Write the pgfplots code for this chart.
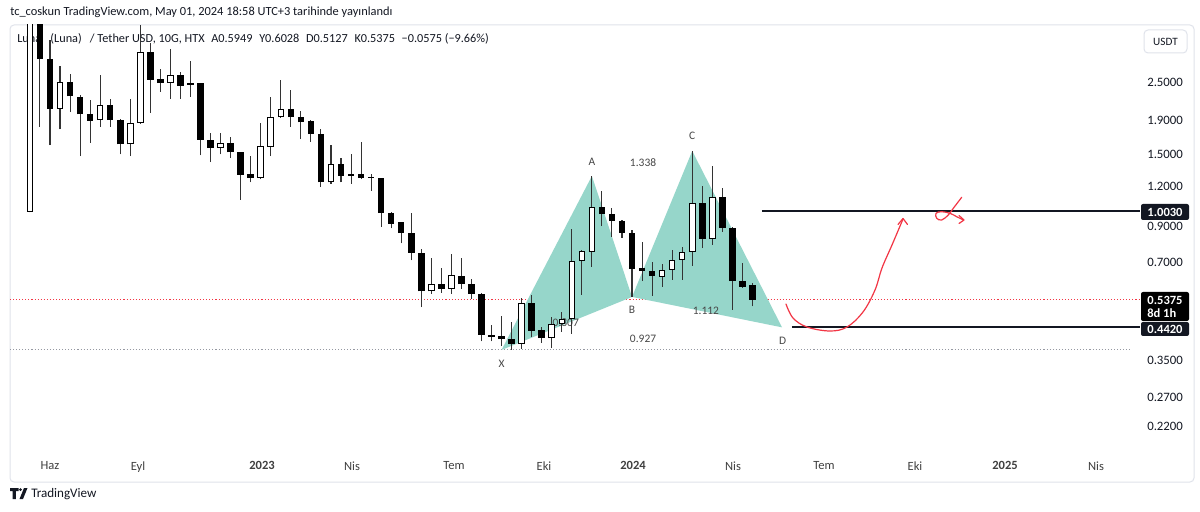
\documentclass[border=0pt]{standalone}
\usepackage{fontspec}
\setmainfont{Carlito}
\usepackage{pgfplots}
\usepackage{pgfplotstable}
\pgfplotsset{compat=1.18}

\definecolor{tvtext}{HTML}{131722}
\definecolor{tvteal}{RGB}{150,214,202}
\definecolor{tvred}{HTML}{F23645}
\definecolor{tvframe}{HTML}{E0E3EB}
\definecolor{tvgray}{HTML}{9598A1}

% 10-day candles, x = days since 1 June 2022
\pgfplotstableread{
d O H L C
-22 1.00 6.00 0.995 4.60
8 2.07 2.80 1.79 2.50
48 1.91 2.63 1.82 2.13
78 1.61 2.22 1.48 1.87
88 1.87 3.74 1.86 3.09
118 2.48 3.16 2.22 2.63
138 2.45 2.90 2.25 2.48
168 1.57 1.74 1.50 1.62
208 1.27 1.87 1.26 1.59
218 1.58 2.25 1.48 1.95
228 1.95 2.54 1.94 2.07
278 1.23 1.60 1.22 1.40
378 0.57 0.72 0.56 0.60
398 0.58 0.74 0.56 0.64
468 0.393 0.544 0.379 0.525
498 0.41 0.476 0.382 0.453
508 0.453 0.493 0.428 0.469
518 0.469 0.885 0.422 0.706
528 0.706 0.763 0.556 0.758
538 0.753 1.287 0.677 1.034
608 0.631 0.692 0.588 0.663
618 0.663 0.763 0.618 0.711
628 0.711 0.780 0.618 0.753
638 0.753 1.536 0.682 1.064
658 0.825 1.382 0.791 1.110
}\upc

\pgfplotstableread{
d O H L C
-12 4.60 5.20 1.82 2.94
-2 2.94 3.36 1.60 2.07
18 2.50 2.65 2.02 2.26
28 2.25 2.28 1.48 1.99
38 1.99 2.20 1.63 1.90
58 2.13 2.22 1.82 1.91
68 1.91 1.92 1.50 1.61
98 3.09 3.29 2.01 2.54
108 2.55 2.74 2.33 2.48
128 2.63 2.68 2.22 2.43
148 2.48 2.49 1.49 1.66
158 1.66 1.74 1.42 1.57
178 1.62 1.70 1.46 1.52
188 1.52 1.53 1.09 1.30
198 1.31 1.48 1.23 1.27
238 2.07 2.36 1.82 1.95
248 1.95 2.04 1.67 1.88
258 1.90 1.91 1.64 1.73
268 1.73 1.79 1.19 1.23
288 1.40 1.46 1.23 1.29
298 1.31 1.50 1.22 1.29
308 1.31 1.64 1.26 1.27
318 1.28 1.31 1.16 1.27
328 1.27 1.27 0.90 0.99
338 0.99 1.00 0.89 0.92
348 0.93 0.93 0.80 0.86
358 0.86 0.99 0.71 0.75
368 0.75 0.77 0.51 0.57
388 0.60 0.67 0.565 0.58
408 0.635 0.72 0.58 0.60
418 0.60 0.62 0.54 0.56
428 0.56 0.565 0.40 0.42
438 0.42 0.45 0.40 0.413
448 0.416 0.48 0.387 0.407
458 0.407 0.46 0.377 0.393
478 0.525 0.556 0.413 0.431
488 0.434 0.443 0.396 0.41
548 1.034 1.158 0.904 0.984
558 0.984 1.027 0.837 0.937
568 0.937 0.944 0.831 0.861
578 0.861 0.879 0.548 0.668
588 0.672 0.808 0.613 0.658
598 0.658 0.701 0.552 0.635
648 1.064 1.200 0.774 0.825
668 1.110 1.183 0.867 0.892
678 0.892 0.895 0.500 0.613
688 0.613 0.696 0.584 0.588
698 0.5949 0.6028 0.5127 0.5375
}\downc

\pgfplotsset{
  candle/.style n args={2}{forget plot,draw=none,mark=none,
    error bars/.cd,y dir=plus,y explicit,error mark=none,
    error bar style={line width=#1,draw=#2,solid}},
}

\begin{document}
\begin{tikzpicture}
\path[use as bounding box] (0,0) rectangle (900pt,383.25pt);
% pixel-space scope (1200x511, y down)
\begin{scope}[x=0.75pt,y=-0.75pt,shift={(0,383.25pt)}]
  \fill[white] (0,0) rectangle (1200,511);
  \node[anchor=west,inner sep=0,text=tvtext,font=\fontsize{9.3}{11}\selectfont] at (10,12)
    {tc\_coskun TradingView.com, May 01, 2024 18:58 UTC+3 tarihinde yayınlandı};
  \draw[tvframe,line width=0.75pt,rounded corners=3pt] (10,25) rectangle (1194,482);
  \node[anchor=west,inner sep=0,text=tvtext,font=\fontsize{9.2}{11}\selectfont] at (17,39)
    {Luna\hspace{7pt}(Luna)\hspace{4pt} / Tether USD, 10G, HTX\hspace{5pt}A0.5949\hspace{5pt}Y0.6028\hspace{5pt}D0.5127\hspace{5pt}K0.5375\hspace{5pt}−0.0575 (−9.66\%)};
\end{scope}

\begin{axis}[
  at={(7.5pt,44.25pt)}, anchor=south west,
  scale only axis, width=847.5pt, height=320.25pt,
  xmin=-41.85, xmax=1084.2,
  ymin=-1.6967, ymax=1.31883,
  axis line style={draw=none},
  major tick length=0pt,
  xtick={-2,85.7,209.3,299,400.6,490.3,579,678.6,769.3,860,949.7,1040.4},
  xticklabels={Haz,Eyl,\textbf{2023},Nis,Tem,Eki,\textbf{2024},Nis,Tem,Eki,\textbf{2025},Nis},
  xticklabel style={inner sep=0pt,anchor=north,yshift=-7pt,text=black!75,font=\fontsize{9.4}{11}\selectfont},
  ytick={0.91629,0.64185,0.40547,0.18232,-0.10536,-0.35667,-1.04982,-1.30933,-1.51413},
  yticklabels={2.5000,1.9000,1.5000,1.2000,0.9000,0.7000,0.3500,0.2700,0.2200},
  yticklabel pos=right,
  yticklabel style={anchor=west,inner sep=0pt,xshift=5.25pt,text=tvtext,font=\fontsize{9.6}{11}\selectfont},
]
% price lines
\addplot[forget plot,tvgray,line width=0.7pt,dash pattern=on 0.8pt off 1.5pt] table[x=d,y expr=ln(\thisrow{p})] {
d p
-41.85 0.377
1074 0.377
};
\addplot[forget plot,tvred,line width=0.7pt,dash pattern=on 0.8pt off 1.5pt] table[x=d,y expr=ln(\thisrow{p})] {
d p
-41.85 0.5375
1084.2 0.5375
};
% XABCD pattern
\addplot[forget plot,draw=none,fill=tvteal] table[x=d,y expr=ln(\thisrow{p})] {
d p
448 0.377
538 1.287
578 0.548
};
\addplot[forget plot,draw=none,fill=tvteal] table[x=d,y expr=ln(\thisrow{p})] {
d p
578 0.548
638 1.536
727.5 0.442
};
\begin{scope}[every node/.style={text=black!72,font=\fontsize{8.6}{10}\selectfont}]
\node at (axis cs:448,-1.0753) {X};
\node at (axis cs:538,0.3514) {A};
\node at (axis cs:578,-0.6937) {B};
\node at (axis cs:638,0.5350) {C};
\node at (axis cs:728,-0.9125) {D};
\node at (axis cs:589,0.3443) {1.338};
\node at (axis cs:589,-0.8984) {0.927};
\node at (axis cs:651.7,-0.7008) {1.112};
\node at (axis cs:512,-0.7857) {0.807};
\end{scope}
% wicks
\addplot[candle={0.8pt}{black!80}]
  table[x=d,y expr=ln(\thisrow{L}),y error plus expr=ln(\thisrow{H})-ln(\thisrow{L})] {\upc};
\addplot[candle={0.8pt}{black!80}]
  table[x=d,y expr=ln(\thisrow{L}),y error plus expr=ln(\thisrow{H})-ln(\thisrow{L})] {\downc};
% down bodies
\addplot[candle={4.9pt}{black}]
  table[x=d,y expr=ln(\thisrow{C}),y error plus expr={max(ln(\thisrow{O})-ln(\thisrow{C}),0.008)}] {\downc};
% up bodies: outline then white inside
\addplot[candle={4.9pt}{black}]
  table[x=d,y expr=ln(\thisrow{O}),y error plus expr={max(ln(\thisrow{C})-ln(\thisrow{O}),0.008)}] {\upc};
\addplot[candle={3.4pt}{white}]
  table[x=d,y expr=ln(\thisrow{O})+0.0071,y error plus expr={max(ln(\thisrow{C})-ln(\thisrow{O})-0.0142,0)}] {\upc};
% horizontal levels
\addplot[forget plot,tvtext,line width=1.5pt] table[x=d,y expr=ln(\thisrow{p})] {
d p
707.5 1.003
1084.2 1.003
};
\addplot[forget plot,tvtext,line width=1.5pt] table[x=d,y expr=ln(\thisrow{p})] {
d p
737.4 0.442
1084.2 0.442
};
\end{axis}

\begin{scope}[x=0.75pt,y=-0.75pt,shift={(0,383.25pt)}]
  % hand drawn path
  \draw[tvred,line width=0.9pt,line cap=round,line join=round] plot[smooth,tension=0.6] coordinates
    {(786,304) (793,318) (807,327) (830,331) (847,327) (863,312) (875,290) (882,268) (892,245) (903,219)};
  \draw[tvred,line width=0.9pt,line cap=round,line join=round] (898,224.5) -- (903,218.5) -- (907.5,224.5);
  \draw[tvred,line width=0.9pt,line cap=round,line join=round] plot[smooth,tension=0.6] coordinates
    {(961.7,197.3) (953.3,208.3) (948.3,215) (941.7,220) (936.7,218.3) (936,213.3) (941.7,211.7) (950,213.3) (956.7,216.7) (963.5,220)};
  \draw[tvred,line width=0.9pt,line cap=round,line join=round] (959,215.5) -- (964,220) -- (959,223.5);
  % price axis labels
  \fill[tvtext,rounded corners=1.5pt] (1141,204) rectangle (1189,220);
  \node[text=white,font=\bfseries\fontsize{9.4}{11}\selectfont] at (1165,212) {1.0030};
  \fill[black,rounded corners=1.5pt] (1141,292) rectangle (1189,321);
  \node[text=white,font=\bfseries\fontsize{9.4}{11}\selectfont] at (1165,300.5) {0.5375};
  \node[text=white,font=\bfseries\fontsize{9.4}{11}\selectfont,anchor=west,inner sep=0] at (1147,313) {8d 1h};
  \fill[tvtext,rounded corners=1.5pt] (1141,322) rectangle (1189,336);
  \node[text=white,font=\bfseries\fontsize{9.4}{11}\selectfont] at (1165,329) {0.4420};
  \draw[tvframe,fill=white,rounded corners=3pt,line width=0.75pt] (1144,30) rectangle (1187,53);
  \node[text=tvtext,font=\fontsize{8.4}{10}\selectfont] at (1165.5,41.5) {USDT};
  % logo
  \fill[tvtext] (10,488) -- (18.5,488) -- (18.5,491) -- (15.8,491) -- (15.8,499) -- (12.7,499) -- (12.7,491) -- (10,491) -- cycle;
  \fill[tvtext] (20.5,489.6) circle (1.6);
  \fill[tvtext] (24,488) -- (27.5,488) -- (23,499) -- (19.5,499) -- cycle;
  \node[anchor=west,inner sep=0,text=tvtext,font=\fontsize{9.8}{11}\selectfont] at (31,494) {TradingView};
\end{scope}
\end{tikzpicture}
\end{document}
